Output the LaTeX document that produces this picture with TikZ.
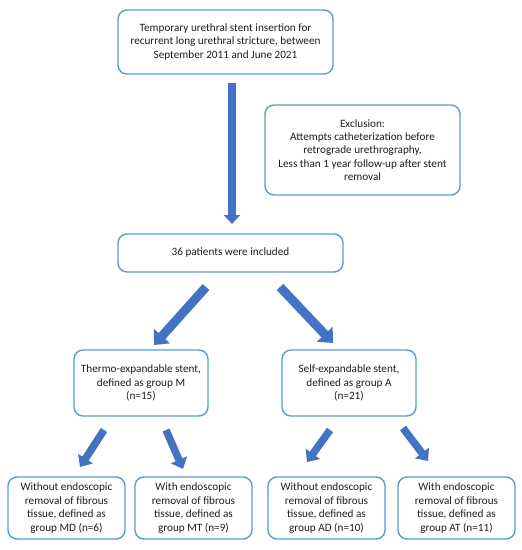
\documentclass[tikz,border=0pt]{standalone}
\usepackage{fontspec}
\setmainfont{Carlito}
\usetikzlibrary{arrows.meta,calc}
\definecolor{boxblue}{HTML}{5B9BD5}
\definecolor{arrblue}{HTML}{4472C4}
\definecolor{txt}{HTML}{1E1E1E}
\begin{document}
\begin{tikzpicture}[x=1pt,y=-1pt,
  box/.style={draw=boxblue,line width=1.4pt,rounded corners=9pt,fill=white,
    align=center,inner sep=0pt,text=txt,font=\fontsize{11.2}{13.4}\selectfont},
  bigarrow/.style={draw=arrblue,line width=9pt,
    -{Triangle[length=12pt,width=21pt]}},
  midarrow/.style={draw=arrblue,line width=8pt,
    -{Triangle[length=9pt,width=16pt]}},
  smallarrow/.style={draw=arrblue,line width=7.5pt,
    -{Triangle[length=10pt,width=17pt]}}]
\useasboundingbox (0,0) rectangle (522,550);
\node[box,minimum width=215pt,minimum height=64pt] (top) at (225.5,42)
  {Temporary urethral stent insertion for\\recurrent long urethral stricture, between\\September 2011 and June 2021};
\node[box,minimum width=195pt,minimum height=90pt] (excl) at (362.5,150)
  {Exclusion:\\Attempts catheterization before\\retrograde urethrography,\\Less than 1 year follow-up after stent\\removal};
\node[box,minimum width=225pt,minimum height=38pt] (n36) at (230.5,253)
  {36 patients were included};
\node[box,minimum width=134pt,minimum height=66pt] (gm) at (141,383)
  {Thermo-expandable stent,\\defined as group M\\(n=15)};
\node[box,minimum width=134pt,minimum height=66pt] (ga) at (349,383)
  {Self-expandable stent,\\defined as group A\\(n=21)};
\node[box,minimum width=117pt,minimum height=62pt] (md) at (66.5,508)
  {Without endoscopic\\removal of fibrous\\tissue, defined as\\group MD (n=6)};
\node[box,minimum width=117pt,minimum height=62pt] (mt) at (193.5,508)
  {With endoscopic\\removal of fibrous\\tissue, defined as\\group MT (n=9)};
\node[box,minimum width=117pt,minimum height=62pt] (ad) at (326.5,508)
  {Without endoscopic\\removal of fibrous\\tissue, defined as\\group AD (n=10)};
\node[box,minimum width=117pt,minimum height=62pt] (at) at (456.5,508)
  {With endoscopic\\removal of fibrous\\tissue, defined as\\group AT (n=11)};
% connector end points
\coordinate (a0s) at (232,83);   \coordinate (a0e) at (232,224);
\coordinate (a1s) at (206,287);  \coordinate (a1e) at (154,345);
\coordinate (a2s) at (280,287);  \coordinate (a2e) at (333,343);
\coordinate (a3s) at (104,430);  \coordinate (a3e) at (80,467);
\coordinate (a4s) at (166,430);  \coordinate (a4e) at (183,469);
\coordinate (a5s) at (330,430);  \coordinate (a5e) at (307,462);
\coordinate (a6s) at (403,428);  \coordinate (a6e) at (428,461);
\draw[midarrow] (a0s) -- (a0e);
\draw[bigarrow] (a1s) -- (a1e);
\draw[bigarrow] (a2s) -- (a2e);
\draw[smallarrow] (a3s) -- (a3e);
\draw[smallarrow] (a4s) -- (a4e);
\draw[smallarrow] (a5s) -- (a5e);
\draw[smallarrow] (a6s) -- (a6e);
\end{tikzpicture}
\end{document}
